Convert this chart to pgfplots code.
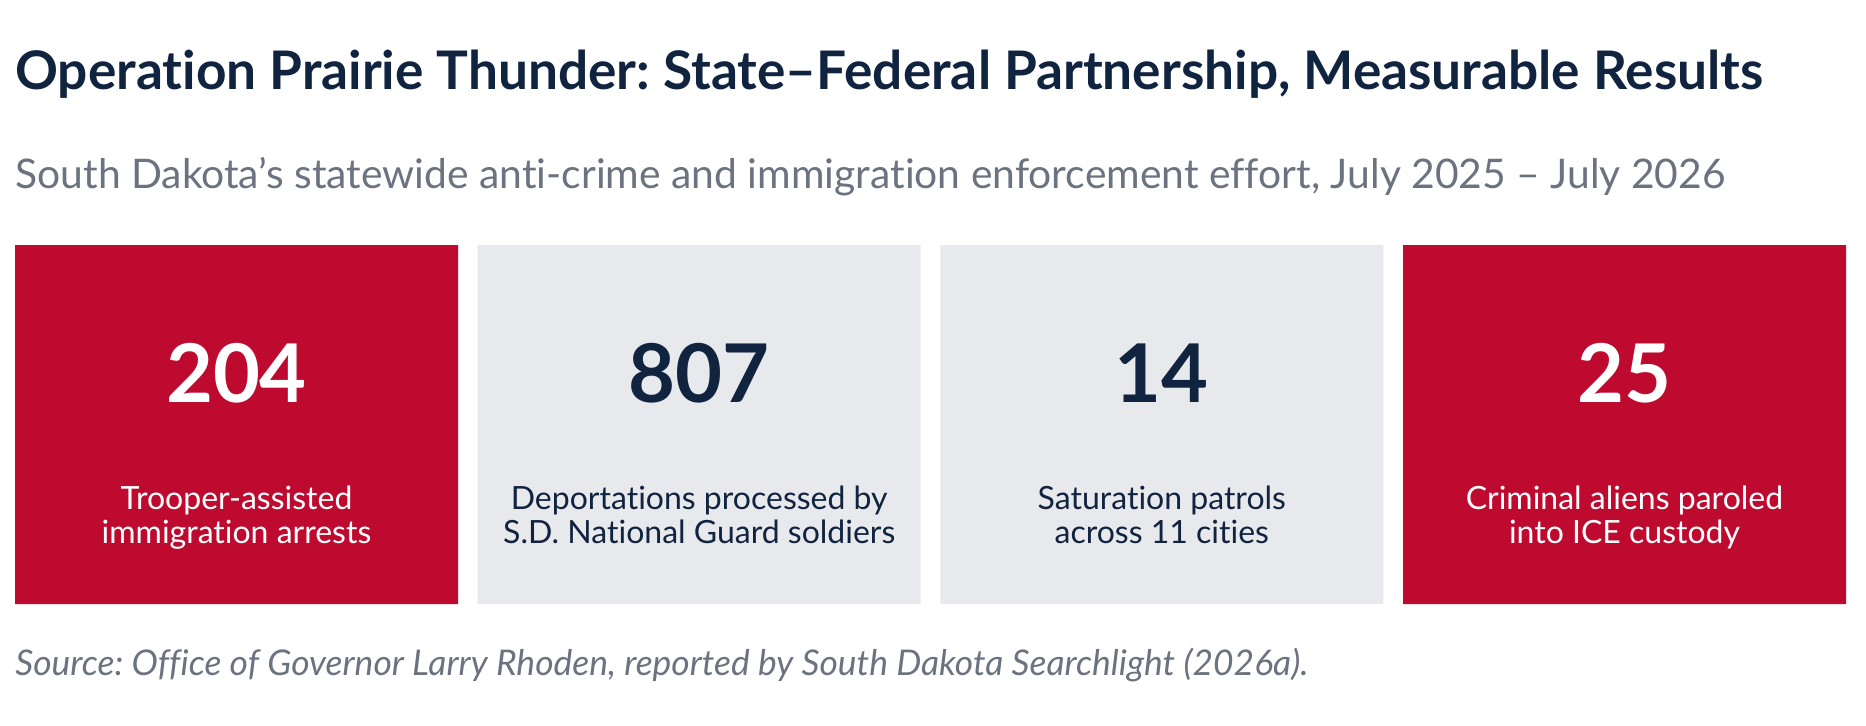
\documentclass[border=0pt]{standalone}
\usepackage{pgfplots}
\pgfplotsset{compat=1.18}
\usepackage{fontspec}
\setmainfont{Lato}[Ligatures=NoCommon]
\frenchspacing
\definecolor{sdred}{HTML}{BE0A2F}
\definecolor{tilegray}{HTML}{E8E9ED}
\definecolor{navy}{HTML}{10233F}
\definecolor{subgray}{HTML}{6B7280}
\begin{document}
\begin{tikzpicture}
\begin{axis}[
  scale only axis, width=933pt, height=362.5pt,
  xmin=0, xmax=1866, ymin=-121, ymax=604,
  axis lines=none, enlargelimits=false, clip=false,
]
\path (axis cs:0,-121) rectangle (axis cs:1866,604);
% tiles (height = tile extent in px)
\addplot[ybar, bar shift=0pt, bar width=443, fill=sdred, draw=none] coordinates {(236.5,359) (1624.5,359)};
\addplot[ybar, bar shift=0pt, bar width=443, fill=tilegray, draw=none] coordinates {(699.2,359) (1161.8,359)};
% values
\addplot[draw=none, mark=none, nodes near coords, point meta=explicit symbolic,
  every node near coord/.append style={anchor=base, inner sep=0pt, text=white, font=\fontsize{40.5}{44}\selectfont\bfseries}]
  table[meta=v] {
x y v
236.5 202 204
1624.5 202 25
};
\addplot[draw=none, mark=none, nodes near coords, point meta=explicit symbolic,
  every node near coord/.append style={anchor=base, inner sep=0pt, text=navy, font=\fontsize{40.5}{44}\selectfont\bfseries}]
  table[meta=v] {
x y v
699.2 202 807
1161.8 202 14
};
% labels
\tikzset{lab/.style={anchor=base, inner sep=0pt, font=\fontsize{16}{19}\selectfont}}
\node[lab, text=white] at (axis cs:236.5,95) {Trooper-assisted};
\node[lab, text=white] at (axis cs:236.5,61) {immigration arrests};
\node[lab, text=navy] at (axis cs:699.2,95) {Deportations processed by};
\node[lab, text=navy] at (axis cs:699.2,61) {S.D. National Guard soldiers};
\node[lab, text=navy] at (axis cs:1161.8,95) {Saturation patrols};
\node[lab, text=navy] at (axis cs:1161.8,61) {across 11 cities};
\node[lab, text=white] at (axis cs:1624.5,95) {Criminal aliens paroled};
\node[lab, text=white] at (axis cs:1624.5,61) {into ICE custody};
% title, subtitle, source
\node[anchor=base west, inner sep=0pt, text=navy, font=\fontsize{26.6}{30}\selectfont\bfseries] at (axis cs:15,515) {Operation Prairie Thunder: State–Federal Partnership, Measurable Results};
\node[anchor=base west, inner sep=0pt, text=subgray, font=\fontsize{20.4}{24}\selectfont] at (axis cs:15,416) {South Dakota’s statewide anti-crime and immigration enforcement effort, July 2025 – July 2026};
\node[anchor=base west, inner sep=0pt, text=subgray, font=\fontsize{17.7}{21}\selectfont\itshape] at (axis cs:15,-71) {Source: Office of Governor Larry Rhoden, reported by South Dakota Searchlight (2026a).};
\end{axis}
\end{tikzpicture}
\end{document}
